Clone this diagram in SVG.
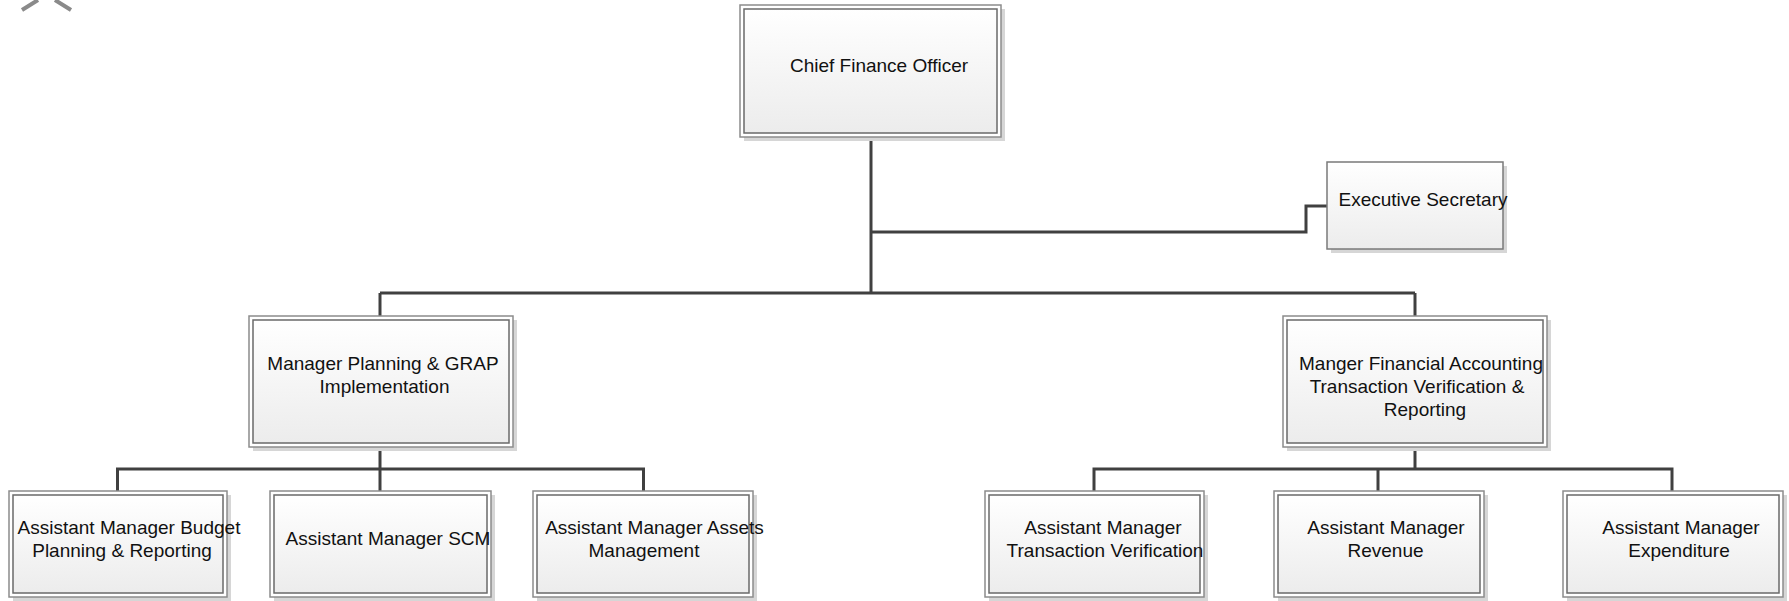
<svg xmlns="http://www.w3.org/2000/svg" width="1789" height="601" viewBox="0 0 1789 601">
  <defs>
    <linearGradient id="boxFill" x1="0" y1="0" x2="0" y2="1">
      <stop offset="0" stop-color="#ffffff"/>
      <stop offset="1" stop-color="#ececec"/>
    </linearGradient>
    <style>
      .shadow { fill: #d6d6d6; }
      .outer { fill: #ffffff; stroke: #8c8c8c; stroke-width: 1.5; }
      .inner { fill: url(#boxFill); stroke: #6a6a6a; stroke-width: 1.5; }
      .single { fill: url(#boxFill); stroke: #7a7a7a; stroke-width: 1.5; }
      .link { fill: none; stroke: #404040; stroke-width: 3; stroke-linejoin: miter; }
      .label { font-family: "Liberation Sans", Arial, sans-serif; font-size: 19px; fill: #111111; text-anchor: middle; }
      .logo { fill: none; stroke: #8a8a8a; stroke-width: 4; }
    </style>
  </defs>

  <rect width="1789" height="601" fill="#ffffff"/>

  <!-- partial logo mark at the top-left edge -->
  <g id="logo-fragment">
    <path class="logo" d="M22 10 L38 0 M55 0 L71 10"/>
  </g>

  <!-- connectors -->
  <g id="connectors">
    <path class="link" d="M871 137 V293"/>
    <path class="link" d="M871 232 H1306 V206 H1327"/>
    <path class="link" d="M380 293 H1415"/>
    <path class="link" d="M380 293 V316"/>
    <path class="link" d="M1415 293 V316"/>
    <path class="link" d="M380 447 V469"/>
    <path class="link" d="M117.5 491 V469 H643.5 V491"/>
    <path class="link" d="M380 469 V491"/>
    <path class="link" d="M1415 447 V469"/>
    <path class="link" d="M1094 491 V469 H1672 V491"/>
    <path class="link" d="M1378 469 V491"/>
  </g>

  <!-- Chief Finance Officer -->
  <g id="cfo">
    <rect class="shadow" x="744" y="9" width="261" height="132"/>
    <rect class="outer" x="740" y="5" width="261" height="132"/>
    <rect class="inner" x="744" y="9" width="253" height="124"/>
    <text class="label" x="879" y="72">Chief Finance Officer</text>
  </g>

  <!-- Executive Secretary -->
  <g id="exec-secretary">
    <rect class="shadow" x="1331" y="166" width="176" height="87"/>
    <rect class="single" x="1327" y="162" width="176" height="87"/>
    <text class="label" x="1423" y="206">Executive Secretary</text>
  </g>

  <!-- Manager Planning & GRAP Implementation -->
  <g id="mgr-planning">
    <rect class="shadow" x="253" y="320" width="264" height="131"/>
    <rect class="outer" x="249" y="316" width="264" height="131"/>
    <rect class="inner" x="253" y="320" width="256" height="123"/>
    <text class="label" x="383" y="370">Manager Planning &amp; GRAP</text>
    <text class="label" x="384.5" y="393">Implementation</text>
  </g>

  <!-- Manger Financial Accounting -->
  <g id="mgr-financial">
    <rect class="shadow" x="1287" y="320" width="264" height="131"/>
    <rect class="outer" x="1283" y="316" width="264" height="131"/>
    <rect class="inner" x="1287" y="320" width="256" height="123"/>
    <text class="label" x="1421" y="370">Manger Financial Accounting</text>
    <text class="label" x="1417" y="393">Transaction Verification &amp;</text>
    <text class="label" x="1425" y="416">Reporting</text>
  </g>

  <!-- Assistant Manager Budget Planning & Reporting -->
  <g id="am-budget">
    <rect class="shadow" x="13" y="495" width="218" height="106"/>
    <rect class="outer" x="9" y="491" width="218" height="106"/>
    <rect class="inner" x="13" y="495" width="210" height="98"/>
    <text class="label" x="129" y="534">Assistant Manager Budget</text>
    <text class="label" x="122" y="557">Planning &amp; Reporting</text>
  </g>

  <!-- Assistant Manager SCM -->
  <g id="am-scm">
    <rect class="shadow" x="274" y="495" width="221" height="106"/>
    <rect class="outer" x="270" y="491" width="221" height="106"/>
    <rect class="inner" x="274" y="495" width="213" height="98"/>
    <text class="label" x="388" y="545">Assistant Manager SCM</text>
  </g>

  <!-- Assistant Manager Assets Management -->
  <g id="am-assets">
    <rect class="shadow" x="537" y="495" width="220" height="106"/>
    <rect class="outer" x="533" y="491" width="220" height="106"/>
    <rect class="inner" x="537" y="495" width="212" height="98"/>
    <text class="label" x="654.5" y="534">Assistant Manager Assets</text>
    <text class="label" x="644" y="557">Management</text>
  </g>

  <!-- Assistant Manager Transaction Verification -->
  <g id="am-transaction">
    <rect class="shadow" x="989" y="495" width="219" height="106"/>
    <rect class="outer" x="985" y="491" width="219" height="106"/>
    <rect class="inner" x="989" y="495" width="211" height="98"/>
    <text class="label" x="1103" y="534">Assistant Manager</text>
    <text class="label" x="1105" y="557">Transaction Verification</text>
  </g>

  <!-- Assistant Manager Revenue -->
  <g id="am-revenue">
    <rect class="shadow" x="1278" y="495" width="210" height="106"/>
    <rect class="outer" x="1274" y="491" width="210" height="106"/>
    <rect class="inner" x="1278" y="495" width="202" height="98"/>
    <text class="label" x="1386" y="534">Assistant Manager</text>
    <text class="label" x="1385.5" y="557">Revenue</text>
  </g>

  <!-- Assistant Manager Expenditure -->
  <g id="am-expenditure">
    <rect class="shadow" x="1567" y="495" width="220" height="106"/>
    <rect class="outer" x="1563" y="491" width="220" height="106"/>
    <rect class="inner" x="1567" y="495" width="212" height="98"/>
    <text class="label" x="1681" y="534">Assistant Manager</text>
    <text class="label" x="1679" y="557">Expenditure</text>
  </g>
</svg>
